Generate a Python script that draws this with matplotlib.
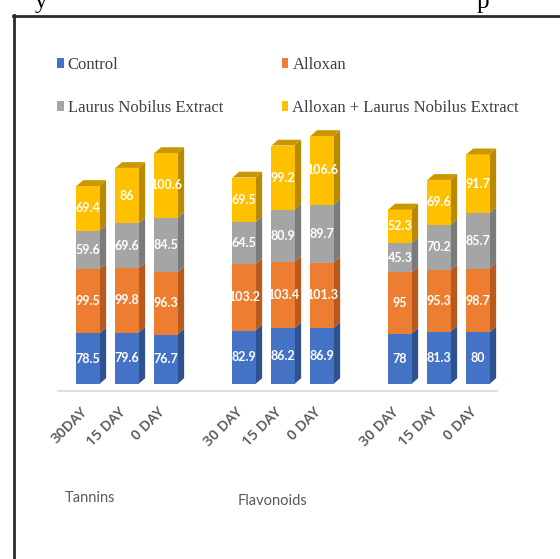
import matplotlib.pyplot as plt
from matplotlib.patches import Polygon, Patch
from matplotlib.lines import Line2D
from matplotlib.transforms import ScaledTranslation

# data
days = ["30DAY", "15 DAY", "0 DAY", "30 DAY", "15 DAY", "0 DAY", "30 DAY", "15 DAY", "0 DAY"]
positions = [0, 1, 2, 4, 5, 6, 8, 9, 10]
series = ["Control", "Alloxan", "Laurus Nobilus Extract", "Alloxan + Laurus Nobilus Extract"]
control = [78.5, 79.6, 76.7, 82.9, 86.2, 86.9, 78, 81.3, 80]
alloxan = [99.5, 99.8, 96.3, 103.2, 103.4, 101.3, 95, 95.3, 98.7]
laurus = [59.6, 69.6, 84.5, 64.5, 80.9, 89.7, 45.3, 70.2, 85.7]
alloxan_laurus = [69.4, 86, 100.6, 69.5, 99.2, 106.6, 52.3, 69.6, 91.7]
groups = ["Tannins", "Flavonoids"]

front = ["#4472C4", "#ED7D31", "#A5A5A5", "#FFC000"]
side = ["#2F528F", "#B85A1E", "#7B7B7B", "#B88A00"]
cap = "#C99800"

W, H = 560, 559
fig = plt.figure(figsize=(W / 100, H / 100), dpi=100)

# pixel helpers for figure-level text
def fx(px):
    return px / W

def fy(py):
    return 1 - py / H

ax = fig.add_axes([fx(58), fy(391), (497 - 58) / W, (391 - 125) / H])
ax.set_xlim((58 - 88) / 39, (497 - 88) / 39)
ax.set_ylim(-(391 - 384) / 0.645, (384 - 125) / 0.645)

w = 0.59     # bar front width
dx = 0.17    # depth offset in x
dy = 9.0     # depth offset in y

bottoms = [0.0] * len(positions)
for k, vals in enumerate([control, alloxan, laurus, alloxan_laurus]):
    ax.bar(positions, vals, bottom=bottoms, width=w, color=front[k], linewidth=0, zorder=2)
    for x, b, h in zip(positions, bottoms, vals):
        xr = x + w / 2
        ax.add_patch(Polygon([(xr, b), (xr + dx, b + dy), (xr + dx, b + h + dy), (xr, b + h)],
                             closed=True, facecolor=side[k], edgecolor="none", zorder=1))
        ax.text(x, b + h / 2, f"{h:g}", ha="center", va="center", color="white",
                fontsize=9, fontweight="bold", family="Lato", zorder=3)
    bottoms = [b + v for b, v in zip(bottoms, vals)]

# top caps
for x, t in zip(positions, bottoms):
    xl, xr = x - w / 2, x + w / 2
    ax.add_patch(Polygon([(xl, t), (xl + dx, t + dy), (xr + dx, t + dy), (xr, t)],
                         closed=True, facecolor=cap, edgecolor="none", zorder=2))

for s in ["left", "right", "top"]:
    ax.spines[s].set_visible(False)
ax.spines["bottom"].set_color("#D9D9D9")
ax.spines["bottom"].set_linewidth(1.2)
ax.set_yticks([])
ax.set_xticks(positions)
ax.set_xticklabels(days, rotation=45, ha="right", rotation_mode="anchor",
                   fontsize=10.5, color="#595959", fontweight="semibold", family="Open Sans")
ax.tick_params(axis="x", length=0, pad=10)
for lab in ax.get_xticklabels():
    lab.set_transform(lab.get_transform() + ScaledTranslation(-0.08, 0, fig.dpi_scale_trans))

# group names
fig.text(fx(65), fy(498), groups[0], ha="left", va="center", fontsize=10.5,
         color="#595959", family="Lato")
fig.text(fx(238), fy(501), groups[1], ha="left", va="center", fontsize=10.5,
         color="#595959", family="Lato")

# legend, two columns
handles = [Patch(facecolor=front[i], edgecolor="none") for i in [0, 2, 1, 3]]
labels = [series[i] for i in [0, 2, 1, 3]]
fig.legend(handles, labels, ncol=2, loc="upper left", bbox_to_anchor=(fx(42), fy(42)),
           frameon=False, handlelength=0.4, handleheight=0.5, handletextpad=0.25,
           columnspacing=3.5, labelspacing=1.6,
           prop={"family": "Liberation Serif", "size": 12}, labelcolor="#404040")

# frame around the chart
fig.add_artist(Line2D([fx(13.5), fx(13.5)], [fy(15), 0], color="#2B2B2B", lw=2))
fig.add_artist(Line2D([fx(12.5), 1], [fy(15.5), fy(15.5)], color="#2B2B2B", lw=2))

# running text above the chart, cut off by the edge
fig.text(fx(35), fy(8), "y", ha="left", va="baseline", fontsize=18,
         family="Liberation Serif", color="black")
fig.text(fx(477), fy(8), "p", ha="left", va="baseline", fontsize=18,
         family="Liberation Serif", color="black")

fig.savefig("out.png", dpi=100, facecolor="white")
